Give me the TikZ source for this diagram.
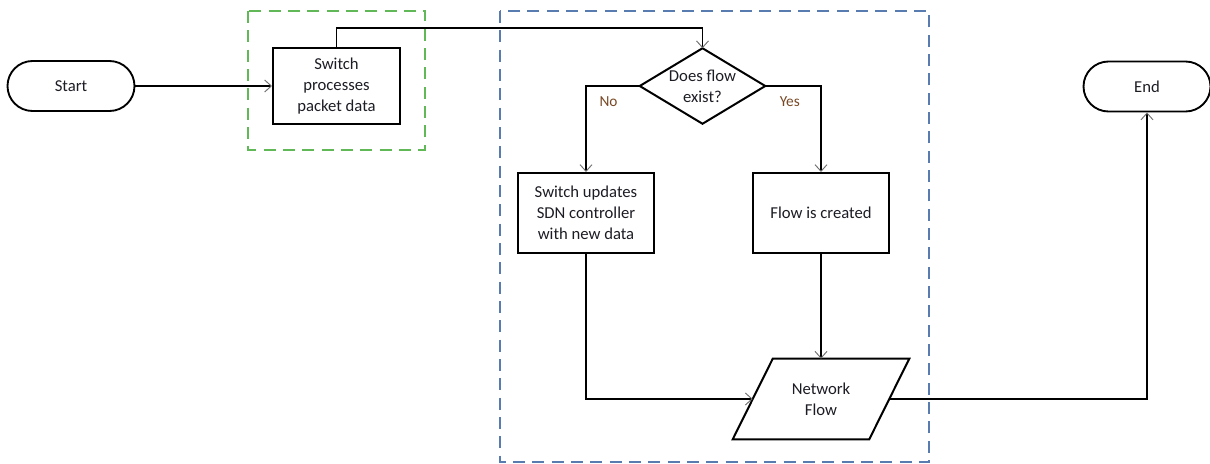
\documentclass[tikz,border=0pt]{standalone}
\usepackage{fontspec}
\setmainfont{Carlito}
\usetikzlibrary{arrows.meta,shapes.misc,calc}

\definecolor{grpgreen}{RGB}{96,184,86}
\definecolor{grpblue}{RGB}{88,124,176}
\definecolor{lblbrown}{RGB}{120,72,36}
\definecolor{tipgray}{RGB}{110,110,110}
\definecolor{inkdark}{RGB}{28,28,36}

\tikzset{
  every node/.style={font=\fontsize{12.5}{15.75}\selectfont, align=center, text=inkdark},
  terminal/.style={rounded rectangle, draw=black, line width=1.4pt, minimum width=95.25pt, minimum height=37.5pt, inner sep=0pt},
  procbox/.style={rectangle, draw=black, line width=1.5pt, minimum width=102pt, minimum height=60pt, inner sep=0pt},
  shapeholder/.style={rectangle, inner sep=0pt},
  outline/.style={line width=1.5pt, line join=miter},
  flowline/.style={line width=1.2pt, -{Straight Barb[length=5pt,width=9pt,line width=0.7pt,color=tipgray]}},
  grpframe/.style={line width=1.5pt, dash pattern=on 9pt off 5.5pt},
  branchlbl/.style={text=lblbrown, font=\fontsize{11.5}{12}\selectfont}
}

\begin{document}
\begin{tikzpicture}[x=0.75pt, y=-0.75pt]
  \useasboundingbox (0,0) rectangle (1210,464);

  % group frames
  \draw[grpframe, grpgreen] (248,11) rectangle (425,150);
  \draw[grpframe, grpblue] (500,11) rectangle (929,462);

  % terminals
  \node[terminal] (start) at (71,86) {Start};
  \node[terminal] (end) at (1147,86.5) {End};

  % process steps
  \node[procbox, minimum width=95.25pt, minimum height=57pt] (sw) at (336.5,86) {Switch\\processes\\packet data};
  \node[procbox] (upd) at (586,213) {Switch updates\\SDN controller\\with new data};
  \node[procbox] (fc) at (821,213) {Flow is created};

  % decision
  \node[shapeholder, minimum width=93.75pt, minimum height=56.25pt] (q) at (702.5,86) {Does flow\\exist?};
  \draw[outline] (q.north) -- (q.east) -- (q.south) -- (q.west) -- cycle;

  % data (parallelogram)
  \node[shapeholder, minimum width=102pt, minimum height=60pt] (nf) at (821,399) {Network\\Flow};
  \draw[outline] ($(nf.north west)+(20,0)$) -- ($(nf.north east)+(20,0)$)
    -- ($(nf.south east)+(-20,0)$) -- ($(nf.south west)+(-20,0)$) -- cycle;

  % connectors
  \draw[flowline] (start.east) -- (sw.west);
  \draw[flowline] (sw.north) -- ++(0,-19) -| (q.north);
  \draw[flowline] (q.west) -| node[branchlbl, pos=0.29, below=4pt] {No} (upd.north);
  \draw[flowline] (q.east) -| node[branchlbl, pos=0.22, below=4pt] {Yes} (fc.north);
  \draw[flowline] (fc.south) -- (nf.north);
  \draw[flowline] (upd.south) |- (nf.west);
  \draw[flowline] (nf.east) -| (end.south);
\end{tikzpicture}
\end{document}
